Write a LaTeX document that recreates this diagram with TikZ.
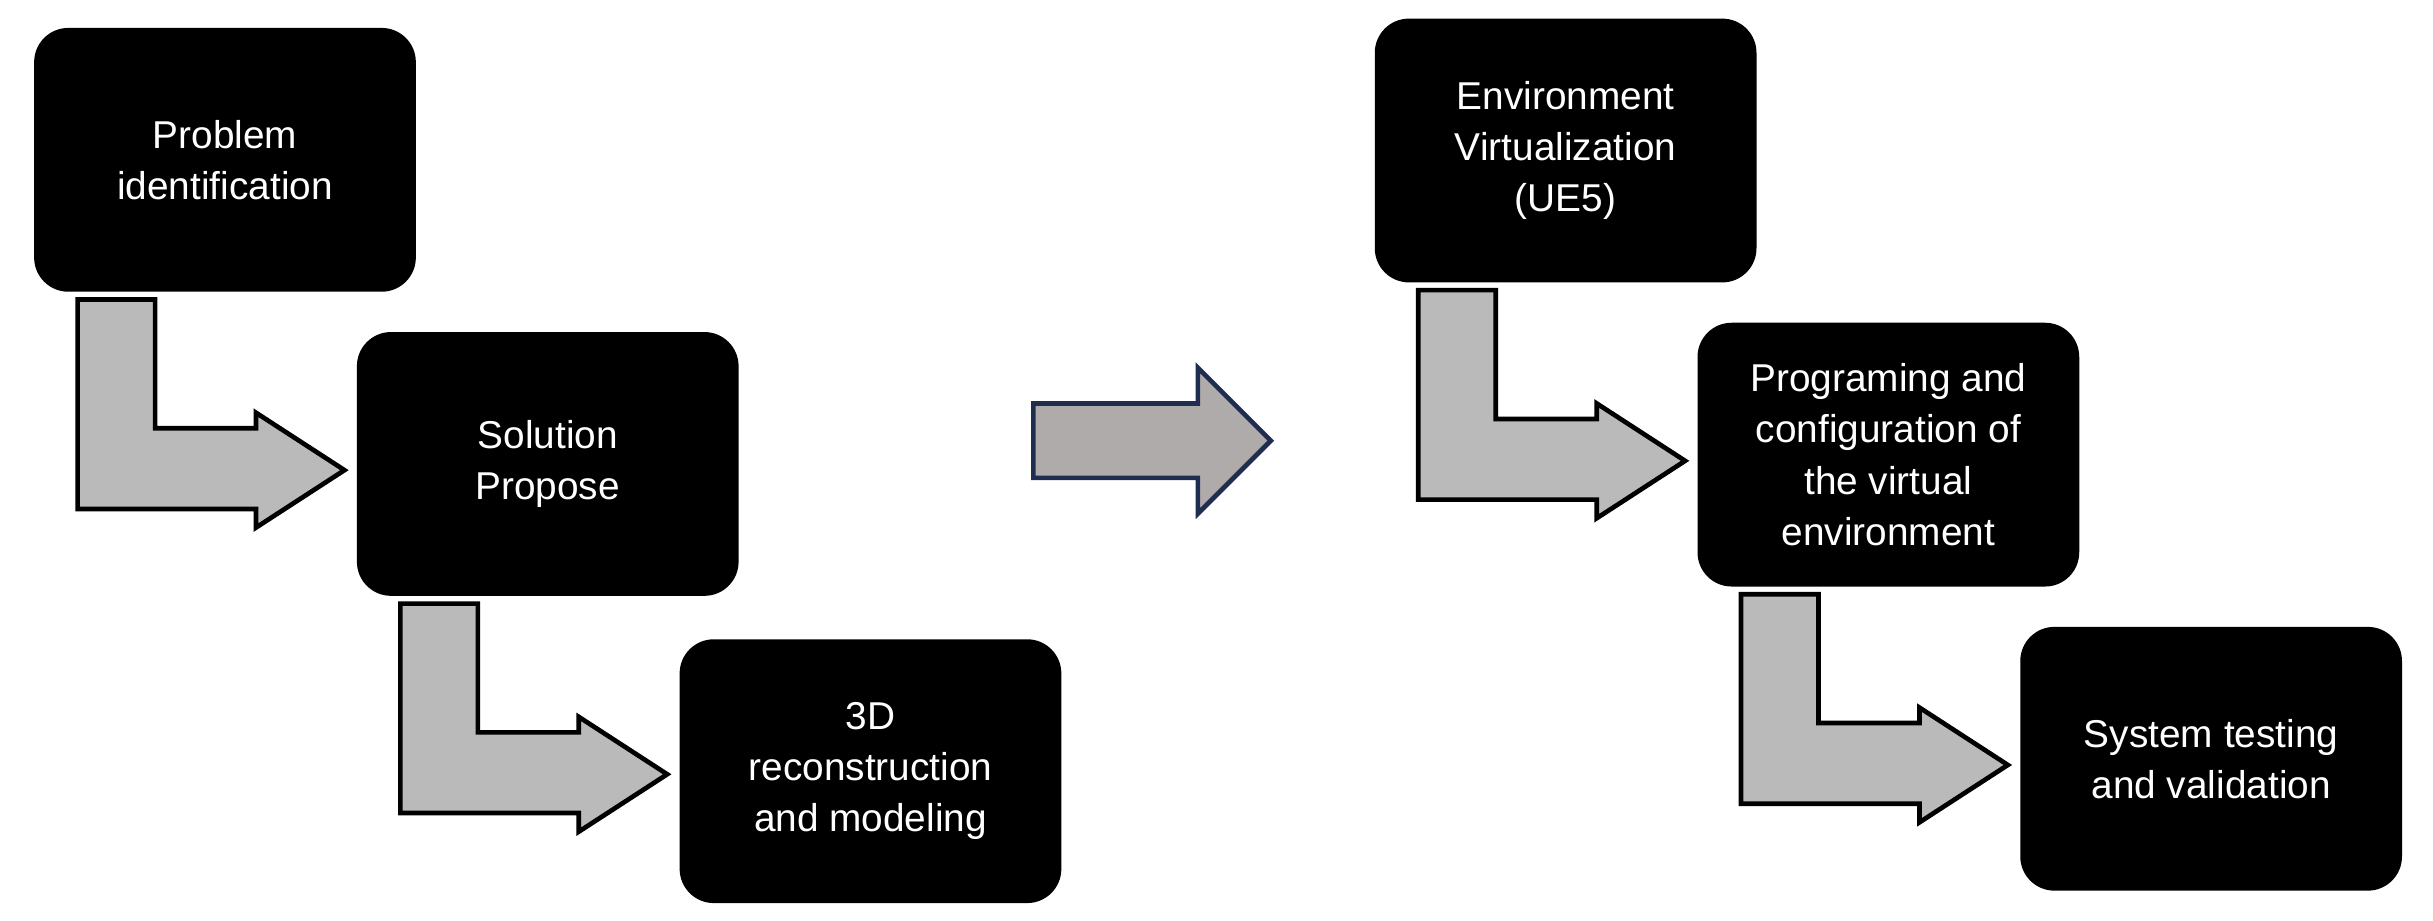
\documentclass[tikz,border=0pt]{standalone}
\usepackage{fontspec}
\setmainfont{Liberation Sans}
\begin{document}
\begin{tikzpicture}[x=1pt,y=-1pt,
  box/.style={fill=black,text=white,rounded corners=22pt,minimum width=246pt,minimum height=170pt,align=center,font=\fontsize{25}{33}\selectfont,inner sep=0pt},
  bent/.style={fill=black!27,draw=black,line width=3pt,line join=miter}]
\useasboundingbox (0,0) rectangle (1568,593);
\newcommand{\bentarr}[2]{%
  \draw[bent] (#1+28,#2+5) -- (#1+78,#2+5) -- (#1+78,#2+88) -- (#1+143,#2+88) -- (#1+143,#2+78) -- (#1+200,#2+115) -- (#1+143,#2+152) -- (#1+143,#2+140) -- (#1+28,#2+140) -- cycle;}
\bentarr{22}{188}
\bentarr{230}{384}
\bentarr{886}{182}
\bentarr{1094}{378}
\node[box] (b1) at (145,103) {Problem\\identification};
\node[box] (b2) at (353,299) {Solution\\Propose};
\node[box] (b3) at (561,497) {3D\\reconstruction\\and modeling};
\node[box] (b4) at (1009,97) {Environment\\Virtualization\\(UE5)};
\node[box] (b5) at (1217,293) {Programing and\\configuration of\\the virtual\\environment};
\node[box] (b6) at (1425,489) {System testing\\and validation};
\draw[fill={rgb,255:red,176;green,171;blue,171},draw={rgb,255:red,31;green,45;blue,80},line width=3pt]
  (666,260) -- (772,260) -- (772,237) -- (819,284) -- (772,331) -- (772,308) -- (666,308) -- cycle;
\end{tikzpicture}
\end{document}
